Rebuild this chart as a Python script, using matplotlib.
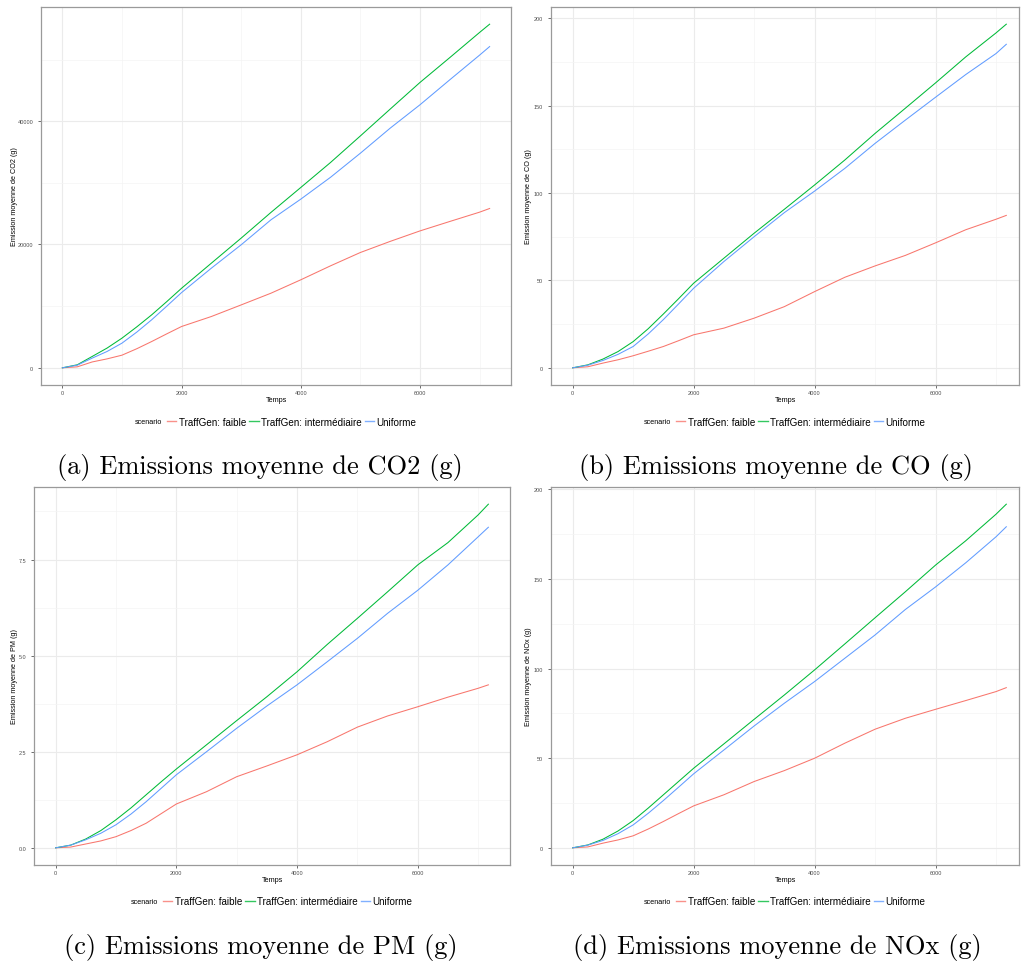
import matplotlib
matplotlib.use('Agg')
import matplotlib.pyplot as plt
from matplotlib.lines import Line2D
from matplotlib.ticker import FixedLocator, StrMethodFormatter

plt.rcParams['font.family'] = ['Liberation Sans', 'DejaVu Sans']

# time axis (s)
temps = [0, 250, 500, 750, 1000, 1250, 1500, 1750, 2000, 2500, 3000, 3500, 4000, 4500, 5000, 5500, 6000, 6500, 7000, 7170]

scenarios = ['TraffGen: faible', 'TraffGen: intermédiaire', 'Uniforme']
couleurs = ['#F8766D', '#00BA38', '#619CFF']

# CO2 (g)
co2_faible = [0, 160, 950, 1450, 2050, 3100, 4270, 5500, 6700, 8320, 10200, 12100, 14270, 16540, 18700, 20500, 22200, 23730, 25240, 25840]
co2_inter = [0, 490, 1840, 3200, 4810, 6650, 8600, 10720, 12900, 16970, 21030, 25200, 29240, 33300, 37600, 41950, 46270, 50300, 54380, 55730]
co2_unif = [0, 430, 1570, 2650, 4000, 5800, 7800, 9980, 12200, 16160, 19950, 24000, 27350, 30900, 34800, 38860, 42650, 46700, 50700, 52100]

# CO (g)
co_faible = [0, 0.6, 2.7, 4.6, 6.9, 9.5, 12.2, 15.5, 18.9, 22.7, 28.4, 35.0, 43.6, 51.8, 58.3, 64.3, 71.5, 79.0, 85.0, 87.2]
co_inter = [0, 1.7, 5.0, 9.3, 15.0, 22.4, 30.8, 39.5, 48.4, 62.7, 77.0, 90.7, 104.6, 118.9, 134.1, 148.5, 163.0, 177.9, 191.6, 196.6]
co_unif = [0, 1.5, 4.2, 7.7, 12.2, 19.4, 27.6, 36.5, 45.5, 60.8, 75.0, 88.8, 101.1, 114.1, 128.4, 141.7, 154.8, 167.8, 179.8, 185.1]

# PM (g)
pm_faible = [0, 0.02, 0.10, 0.18, 0.29, 0.45, 0.64, 0.89, 1.14, 1.46, 1.85, 2.13, 2.42, 2.76, 3.14, 3.43, 3.67, 3.92, 4.15, 4.24]
pm_inter = [0, 0.07, 0.23, 0.45, 0.73, 1.04, 1.38, 1.72, 2.05, 2.68, 3.31, 3.93, 4.58, 5.29, 5.97, 6.66, 7.36, 7.94, 8.66, 8.94]
pm_unif = [0, 0.07, 0.21, 0.38, 0.60, 0.88, 1.20, 1.55, 1.90, 2.50, 3.11, 3.69, 4.24, 4.84, 5.45, 6.10, 6.70, 7.36, 8.09, 8.34]

# NOx (g)
nox_faible = [0, 0.5, 2.6, 4.4, 6.7, 10.5, 14.7, 19.1, 23.4, 29.6, 37.0, 43.1, 50.0, 58.4, 66.2, 72.3, 77.3, 82.2, 87.2, 89.4]
nox_inter = [0, 1.6, 4.8, 9.4, 15.2, 22.2, 29.6, 37.0, 44.4, 58.0, 71.7, 85.3, 99.3, 113.8, 128.4, 142.9, 157.8, 171.4, 186.2, 191.8]
nox_unif = [0, 1.5, 4.1, 7.9, 12.8, 19.3, 26.4, 33.8, 41.3, 54.6, 68.0, 80.7, 92.8, 105.8, 118.8, 133.0, 145.6, 159.1, 173.6, 179.2]

x_ticks = [0, 2000, 4000, 6000]
x_minor = [1000, 3000, 5000, 7000]
co2_ticks = [0, 20000, 40000]
co2_minor = [10000, 30000, 50000]
g200_ticks = [0, 50, 100, 150, 200]
g200_minor = [25, 75, 125, 175]
pm_ticks = [0.0, 2.5, 5.0, 7.5]
pm_minor = [1.25, 3.75, 6.25, 8.75]

W, H = 1021, 962
fig = plt.figure(figsize=(W / 100, H / 100), dpi=100)
fig.patch.set_facecolor('white')


def axes_px(l, t, r, b):
    return fig.add_axes([l / W, 1 - b / H, (r - l) / W, (b - t) / H])


panels = [
    # (series, ylabel, caption, box, xright, yticks, yminor, fmt, caption_x, row_offset)
    ((co2_faible, co2_inter, co2_unif), 'Emission moyenne de CO2 (g)', '(a) Emissions moyenne de CO2 (g)',
     (41, 8, 511, 386), None, co2_ticks, co2_minor, '{x:.0f}', 260, 0),
    ((co_faible, co_inter, co_unif), 'Emission moyenne de CO (g)', '(b) Emissions moyenne de CO (g)',
     (551, 8, 1019, 386), 7380, g200_ticks, g200_minor, '{x:.0f}', 776, 0),
    ((pm_faible, pm_inter, pm_unif), 'Emission moyenne de PM (g)', '(c) Emissions moyenne de PM (g)',
     (34, 488, 510, 866), None, pm_ticks, pm_minor, '{x:.1f}', 261, 480),
    ((nox_faible, nox_inter, nox_unif), 'Emission moyenne de NOx (g)', '(d) Emissions moyenne de NOx (g)',
     (551, 488, 1019, 866), 7380, g200_ticks, g200_minor, '{x:.0f}', 777, 480),
]

for series, ylab, caption, box, xright, yticks, yminor, fmt, cap_x, dy in panels:
    l, t, r, b = box
    ax = axes_px(l, t, r, b)
    for vals, name, col in zip(series, scenarios, couleurs):
        ax.plot(temps, vals, color=col, lw=0.75, label=name)

    tmax = max(temps)
    ymax = max(max(s) for s in series)
    ax.set_xlim(-0.05 * tmax, xright if xright else 1.05 * tmax)
    ax.set_ylim(-0.05 * ymax, 1.05 * ymax)

    ax.xaxis.set_major_locator(FixedLocator(x_ticks))
    ax.xaxis.set_minor_locator(FixedLocator(x_minor))
    ax.yaxis.set_major_locator(FixedLocator(yticks))
    ax.yaxis.set_minor_locator(FixedLocator(yminor))
    ax.yaxis.set_major_formatter(StrMethodFormatter(fmt))

    ax.grid(which='major', color='#EBEBEB', lw=0.8)
    ax.grid(which='minor', color='#F4F4F4', lw=0.5)
    ax.set_axisbelow(True)
    for sp in ax.spines.values():
        sp.set_color('#9A9A9A')
        sp.set_linewidth(0.9)
    ax.tick_params(which='major', length=2.2, width=0.6, color='#555555',
                   labelsize=4, labelcolor='#4D4D4D')
    ax.tick_params(axis='x', pad=1.2)
    ax.tick_params(axis='y', pad=3.5)
    ax.tick_params(which='minor', length=0)

    ax.set_xlabel('Temps', fontsize=5.2, color='black')
    ax.xaxis.label.set_verticalalignment('center')
    ax.xaxis.set_label_coords(0.5, (b - (401 + dy)) / (b - t))
    ax.set_ylabel(ylab, fontsize=5.2, color='black')
    ax.yaxis.label.set_verticalalignment('center')
    lab_x = 14 if l < 300 else 529
    ax.yaxis.set_label_coords((lab_x - l) / (r - l), 0.5)

    # legend at the bottom, ggplot style: title on the left
    cx = (l + r) / 2
    leg_y = 1 - (422.5 + dy) / H
    fig.text((cx - 141) / W, leg_y, 'scenario', fontsize=5.2, ha='left', va='center')
    handles = [Line2D([0, 1], [0, 0], color=c, lw=1.0) for c in couleurs]
    leg = fig.legend(handles=handles, labels=scenarios, loc='center left',
                     bbox_to_anchor=((cx - 109) / W, leg_y),
                     ncol=3, frameon=False, fontsize=7.1, handlelength=0.95, handletextpad=0.25,
                     columnspacing=0.3, borderpad=0, borderaxespad=0)
    for hl, c in zip(leg.get_lines(), couleurs):
        hl.set_color(c)
        hl.set_alpha(0.8)

    fig.text(cap_x / W, 1 - (474 + dy) / H, caption, fontsize=19,
             family=['cmr10', 'DejaVu Serif'], ha='center', va='baseline')

fig.savefig('out.png', dpi=100)
